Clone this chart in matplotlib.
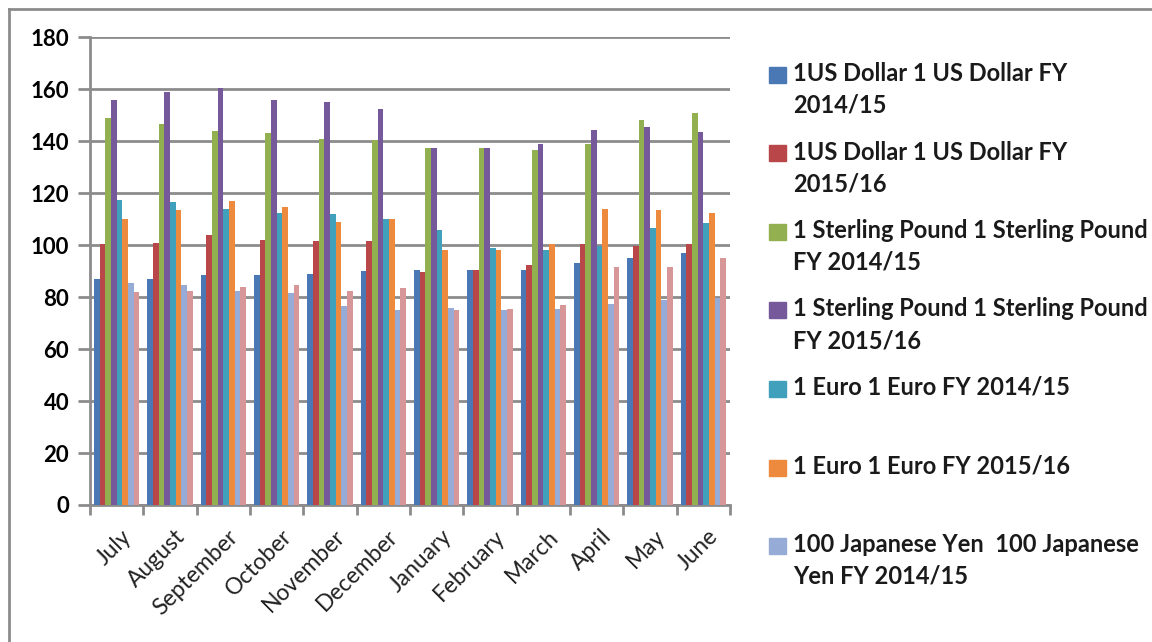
import numpy as np
import matplotlib
matplotlib.use('Agg')
import matplotlib.pyplot as plt
from matplotlib.lines import Line2D
from matplotlib.patches import Rectangle

plt.rcParams['font.family'] = ['Lato', 'DejaVu Sans']

months = ['July', 'August', 'September', 'October', 'November', 'December',
          'January', 'February', 'March', 'April', 'May', 'June']

# exchange rates
usd_1415 = [87, 87, 88.5, 88.5, 89, 90, 90.5, 90.5, 90.5, 93, 95, 97]
usd_1516 = [100.5, 101, 104, 102, 101.5, 101.5, 89.5, 90.5, 92.5, 100.5, 99.5, 100.5]
gbp_1415 = [149, 146.5, 144, 143, 141, 140.5, 137.5, 137.5, 136.5, 139, 148, 151]
gbp_1516 = [156, 159, 160.5, 156, 155, 152.5, 137.5, 137.5, 139, 144.5, 145.5, 143.5]
eur_1415 = [117.5, 116.5, 114, 112.5, 112, 110, 106, 99, 98, 99.5, 106.5, 108.5]
eur_1516 = [110, 113.5, 117, 114.5, 109, 110, 98, 98, 100.5, 114, 113.5, 112.5]
jpy_1415 = [85.5, 84.5, 82.5, 81.5, 76.5, 75, 76, 75, 75.5, 77.5, 79, 79.5]
jpy_1516 = [82, 82.5, 84, 84.5, 82.5, 83.5, 75, 75.5, 77, 91.5, 91.5, 95]

series = [usd_1415, usd_1516, gbp_1415, gbp_1516, eur_1415, eur_1516, jpy_1415, jpy_1516]
# the last legend entry is cut off in the original, only 7 are shown
labels = ['1US Dollar 1 US Dollar FY\n2014/15',
          '1US Dollar 1 US Dollar FY\n2015/16',
          '1 Sterling Pound 1 Sterling Pound\nFY 2014/15',
          '1 Sterling Pound 1 Sterling Pound\nFY 2015/16',
          '1 Euro 1 Euro FY 2014/15',
          '1 Euro 1 Euro FY 2015/16',
          '100 Japanese Yen  100 Japanese\nYen FY 2014/15']
colors = ['#4a78b4', '#b9474a', '#92b050', '#76599a', '#41a1bd', '#ee8a3e',
          '#96acd6', '#d79697']

fig = plt.figure(figsize=(11.52, 6.42), dpi=100)
ax = fig.add_axes([0.0781, 0.2134, 0.5556, 0.7285])

x = np.arange(len(months))
w = 0.106
for i, (vals, c) in enumerate(zip(series, colors)):
    ax.bar(x + (i - 3.5) * w, vals, width=w, color=c, zorder=3)

ax.set_xlim(-0.5, len(months) - 0.5)
ax.set_ylim(0, 180)
ax.set_yticks(np.arange(0, 181, 20))
ax.grid(axis='y', color='#8c8c8c', linewidth=2, zorder=0)
for s in ['top', 'right']:
    ax.spines[s].set_visible(False)
for s in ['left', 'bottom']:
    ax.spines[s].set_color('#8c8c8c')
    ax.spines[s].set_linewidth(2)

ax.set_xticks(np.arange(-0.5, len(months)), minor=False)
ax.set_xticklabels([])
ax.tick_params(axis='x', which='major', length=7, width=2, color='#8c8c8c')
ax.set_xticks(x + 0.08, minor=True)
ax.set_xticklabels(months, minor=True, rotation=45, ha='right',
                   rotation_mode='anchor', fontsize=16.5, color='#222222')
ax.tick_params(axis='x', which='minor', length=0, pad=15)
ax.tick_params(axis='y', length=9, width=2, color='#8c8c8c', labelsize=16, pad=6)
for t in ax.get_yticklabels():
    t.set_fontweight('bold')

# legend drawn by hand so every entry gets the same slot height
top = 1 - 75 / 642.0
step = 78.5 / 642.0
for i, (lab, c) in enumerate(zip(labels, colors)):
    y = top - i * step
    fig.add_artist(Rectangle((769 / 1152.0, y - 8 / 642.0), 17 / 1152.0, 16 / 642.0,
                             transform=fig.transFigure, color=c))
    fig.text(793 / 1152.0, y + 13 / 642.0, lab, fontsize=17, fontweight='bold',
             va='top', ha='left', linespacing=1.45, color='#1a1a1a')

# frame lines of the cropped screenshot
fig.add_artist(Line2D([9 / 1152.0, 9 / 1152.0], [0, 1 - 9 / 642.0],
                      transform=fig.transFigure, color='#8c8c8c', lw=2))
fig.add_artist(Line2D([9 / 1152.0, 1], [1 - 9 / 642.0, 1 - 9 / 642.0],
                      transform=fig.transFigure, color='#8c8c8c', lw=2))

fig.savefig('out.png', dpi=100)
